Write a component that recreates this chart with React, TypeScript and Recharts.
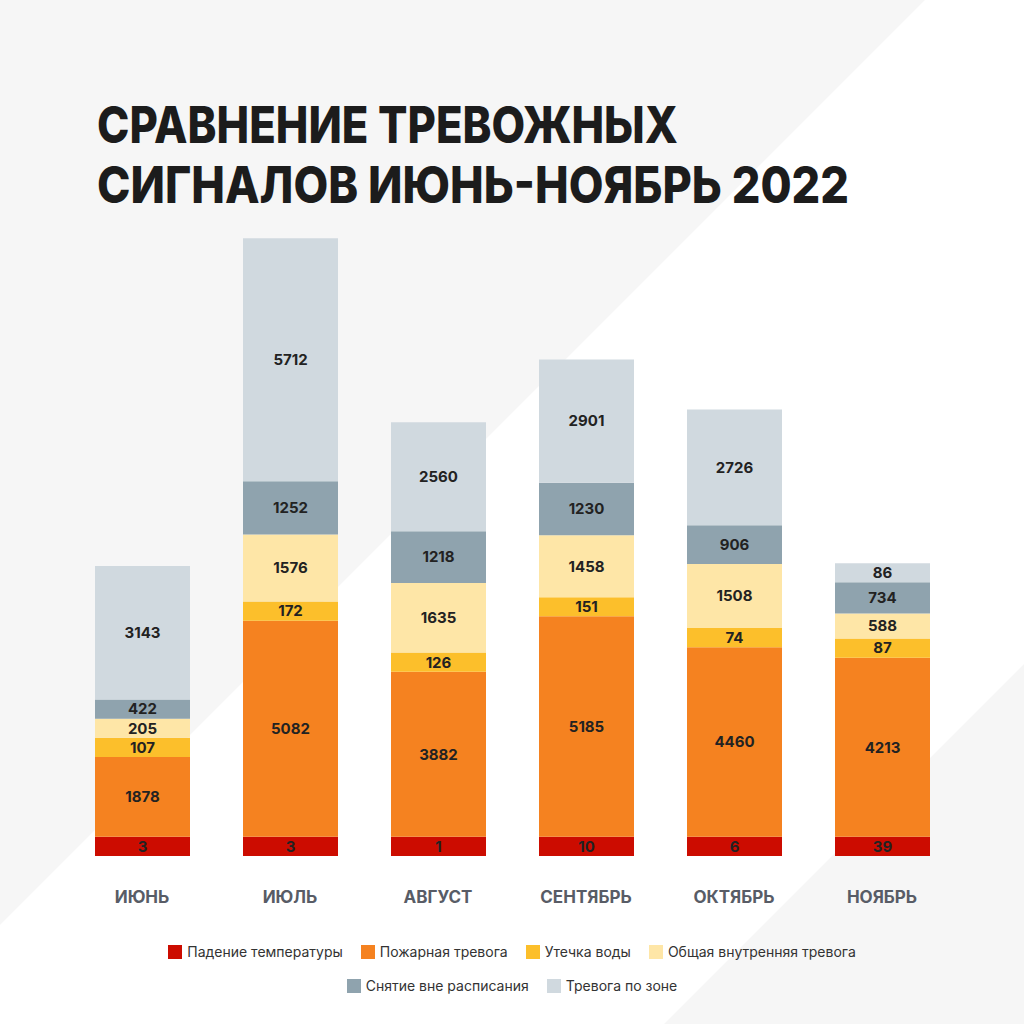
import { BarChart, Bar, XAxis, YAxis, LabelList } from "recharts";

const months = ["ИЮНЬ", "ИЮЛЬ", "АВГУСТ", "СЕНТЯБРЬ", "ОКТЯБРЬ", "НОЯБРЬ"];
const tempDrop = [3, 3, 1, 10, 6, 39];
const fireAlarm = [1878, 5082, 3882, 5185, 4460, 4213];
const waterLeak = [107, 172, 126, 151, 74, 87];
const generalAlarm = [205, 1576, 1635, 1458, 1508, 588];
const offSchedule = [422, 1252, 1218, 1230, 906, 734];
const zoneAlarm = [3143, 5712, 2560, 2901, 2726, 86];

const series = [
  { key: "tempDrop", name: "Падение температуры", color: "#cc0c00", values: tempDrop },
  { key: "fireAlarm", name: "Пожарная тревога", color: "#f58220", values: fireAlarm },
  { key: "waterLeak", name: "Утечка воды", color: "#fcbf2b", values: waterLeak },
  { key: "generalAlarm", name: "Общая внутренняя тревога", color: "#fee6a7", values: generalAlarm },
  { key: "offSchedule", name: "Снятие вне расписания", color: "#8fa3ae", values: offSchedule },
  { key: "zoneAlarm", name: "Тревога по зоне", color: "#d0d9df", values: zoneAlarm },
];

// the infographic gives tiny segments a minimum visible height
const MIN_SEGMENT = 450;

const data = months.map((month, i) => {
  const row: Record<string, string | number> = { month };
  series.forEach((s) => {
    row[s.key] = Math.max(s.values[i], MIN_SEGMENT);
    row[s.key + "Label"] = s.values[i];
  });
  return row;
});

const MonthTick = ({ x, y, payload }: any) => (
  <text x={x} y={y + 39} textAnchor="middle" fill="#585c66" fontSize={17} fontWeight={700} fontFamily="Inter, sans-serif">
    {payload.value}
  </text>
);

const LegendBlock = () => (
  <div style={{ position: "absolute", top: 943, left: 132, width: 760, display: "flex", flexWrap: "wrap", justifyContent: "center", rowGap: 17, columnGap: 18 }}>
    {series.map((s) => (
      <div key={s.key} style={{ display: "flex", alignItems: "center", gap: 5, fontSize: 14, color: "#333", fontFamily: "Inter, sans-serif" }}>
        <span style={{ width: 14, height: 14, background: s.color, display: "inline-block" }} />
        {s.name}
      </div>
    ))}
  </div>
);

export default function App() {
  return (
    <div style={{ position: "absolute", top: 0, left: 0, width: 1024, height: 1024, background: "#f6f6f6", overflow: "hidden" }}>
      <svg width={1024} height={1024} style={{ position: "absolute", top: 0, left: 0 }}>
        <polygon points="925,0 1024,0 1024,664 664,1024 0,1024 0,925" fill="#ffffff" />
        <text x={97} y={143} fontSize={51} fontWeight={800} fill="#1c1c1c" fontFamily="Inter, sans-serif" textLength={581} lengthAdjust="spacingAndGlyphs">
          СРАВНЕНИЕ ТРЕВОЖНЫХ
        </text>
        <text x={97} y={203} fontSize={51} fontWeight={800} fill="#1c1c1c" fontFamily="Inter, sans-serif" textLength={752} lengthAdjust="spacingAndGlyphs">
          СИГНАЛОВ ИЮНЬ-НОЯБРЬ 2022
        </text>
      </svg>
      <div style={{ position: "absolute", top: 0, left: 0 }}>
        <BarChart width={1024} height={1024} data={data} margin={{ top: 218, right: 68, bottom: 108, left: 68 }} barSize={95}>
          <XAxis dataKey="month" axisLine={false} tickLine={false} tick={<MonthTick />} height={60} interval={0} />
          <YAxis hide domain={[0, 15000]} />
          {series.map((s) => (
            <Bar key={s.key} dataKey={s.key} name={s.name} stackId="a" fill={s.color} isAnimationActive={false}>
              <LabelList dataKey={s.key + "Label"} position="center" fill="#222" fontSize={15} fontWeight={700} fontFamily="Inter, sans-serif" />
            </Bar>
          ))}
        </BarChart>
      </div>
      <LegendBlock />
    </div>
  );
}
